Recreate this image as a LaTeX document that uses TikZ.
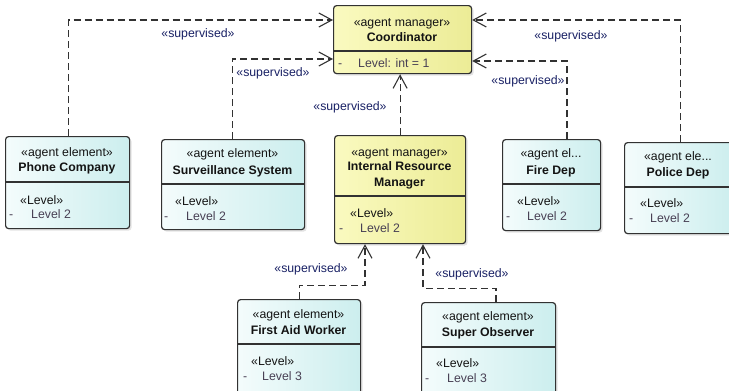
\documentclass[tikz,border=0pt]{standalone}
\usepackage{fontspec}
\setmainfont{Liberation Sans}
\usetikzlibrary{arrows.meta,calc,shadows}

\definecolor{edge}{RGB}{50,50,50}
\definecolor{elemL}{RGB}{244,252,252}
\definecolor{elemR}{RGB}{204,238,238}
\definecolor{mgrL}{RGB}{250,250,192}
\definecolor{mgrR}{RGB}{236,236,150}
\definecolor{ink}{RGB}{20,20,20}
\definecolor{attr}{RGB}{72,64,84}
\definecolor{lbl}{RGB}{24,32,100}

\newcommand\txtsize{\fontsize{12.3}{14}\selectfont}

\tikzset{
  box/.style={draw=edge, line width=1.2pt, rounded corners=3pt, inner sep=0pt,
    anchor=north west,
    drop shadow={opacity=0.22, shadow xshift=2pt, shadow yshift=-2pt}},
  elem/.style={box, left color=elemL, right color=elemR},
  mgr/.style={box, left color=mgrL, right color=mgrR},
  divider/.style={draw=edge, line width=1.2pt},
  st/.style={anchor=base, inner sep=0pt, font=\txtsize, text=ink},
  nm/.style={anchor=base, inner sep=0pt, font=\txtsize\bfseries, text=ink},
  lv/.style={anchor=base west, inner sep=0pt, font=\txtsize, text=ink},
  attrtxt/.style={anchor=base west, inner sep=0pt, font=\txtsize, text=attr},
  sup/.style={draw=edge, line width=1.2pt, dash pattern=on 7pt off 4pt,
    -{Straight Barb[length=13pt,width=14pt,line width=1.1pt]}},
  suplabel/.style={anchor=base, inner sep=0pt, font=\txtsize, text=lbl},
}

% style, name, left, top, right, bottom, divider
\newcommand\umlbox[7]{%
  \node[#1, minimum width={#5-#3}, minimum height={#6-#4}] (#2) at (#3,#4) {};
  \draw[divider] (#2.west |- 0,#7) -- (#2.east |- 0,#7);}

\begin{document}
\begin{tikzpicture}[x=1pt,y=-1pt]
\useasboundingbox (0,0) rectangle (729,391);
\clip (0,0) rectangle (729,391);

% boxes
\umlbox{mgr}{coord}{333}{5}{471}{73}{51}
\umlbox{elem}{pc}{5}{136}{129}{228}{182}
\umlbox{elem}{sv}{161}{139}{304}{229}{184}
\umlbox{mgr}{irm}{334}{135}{465}{243}{196}
\umlbox{elem}{fd}{502}{139}{600}{230}{184}
\umlbox{elem}{pd}{624}{142}{733}{233}{187}
\umlbox{elem}{faw}{237}{299}{360}{398}{344}
\umlbox{elem}{so}{421}{302}{555}{398}{347}

% Coordinator
\node[st] (coord-st) at (402,26) {«agent manager»};
\node[nm] (coord-nm) at (402,41) {Coordinator};
\node[attrtxt] (coord-d) at (338,67) {-};
\node[attrtxt] (coord-a) at (358,67) {Level: int = 1};

% Phone Company
\node[st] (pc-st) at (67,156) {«agent element»};
\node[nm] (pc-nm) at (67,171.5) {Phone Company};
\node[lv] (pc-lv) at (20,204) {«Level»};
\node[attrtxt] (pc-d) at (9,218) {-};
\node[attrtxt] (pc-a) at (31,218) {Level 2};

% Surveillance System
\node[st] (sv-st) at (232.5,157.5) {«agent element»};
\node[nm] (sv-nm) at (232.5,174) {Surveillance System};
\node[lv] (sv-lv) at (175,205) {«Level»};
\node[attrtxt] (sv-d) at (164,220.5) {-};
\node[attrtxt] (sv-a) at (186,220.5) {Level 2};

% Internal Resource Manager
\node[st] (irm-st) at (399.5,156) {«agent manager»};
\node[nm] (irm-nm1) at (399.5,170) {Internal Resource};
\node[nm] (irm-nm2) at (399.5,186) {Manager};
\node[lv] (irm-lv) at (350,217) {«Level»};
\node[attrtxt] (irm-d) at (339,232) {-};
\node[attrtxt] (irm-a) at (360,232) {Level 2};

% Fire Dep
\node[st] (fd-st) at (551,157) {«agent el...};
\node[nm] (fd-nm) at (551,174.5) {Fire Dep};
\node[lv] (fd-lv) at (517,205) {«Level»};
\node[attrtxt] (fd-d) at (506,220.5) {-};
\node[attrtxt] (fd-a) at (527,220.5) {Level 2};

% Police Dep
\node[st] (pd-st) at (678,160.5) {«agent ele...};
\node[nm] (pd-nm) at (678,176.5) {Police Dep};
\node[lv] (pd-lv) at (640,207) {«Level»};
\node[attrtxt] (pd-d) at (629,222.5) {-};
\node[attrtxt] (pd-a) at (650,222.5) {Level 2};

% First Aid Worker
\node[st] (faw-st) at (298.5,318) {«agent element»};
\node[nm] (faw-nm) at (298.5,334) {First Aid Worker};
\node[lv] (faw-lv) at (251,365) {«Level»};
\node[attrtxt] (faw-d) at (243,380) {-};
\node[attrtxt] (faw-a) at (262,380) {Level 3};

% Super Observer
\node[st] (so-st) at (488,320.5) {«agent element»};
\node[nm] (so-nm) at (488,336) {Super Observer};
\node[lv] (so-lv) at (436,367) {«Level»};
\node[attrtxt] (so-d) at (425,382.5) {-};
\node[attrtxt] (so-a) at (447,382.5) {Level 3};

% supervision links
\draw[sup] ($(pc.north)+(1,0)$) |- ($(coord.north west)+(0,15)$);
\draw[sup] ($(sv.north)+(-1,0)$) |- ($(coord.north west)+(0,54)$);
\draw[sup] ($(fd.north west)+(65,0)$) |- ($(coord.north east)+(0,56)$);
\draw[sup] ($(pd.north)+(1,0)$) |- ($(coord.north east)+(0,15)$);
\draw[sup] (irm.north) -- (irm.north |- coord.south);
\draw[sup] (faw.north) |- ($(irm.south west)+(31,41)$) -- ($(irm.south west)+(31,0)$);
\draw[sup] ($(so.north west)+(75,0)$) |- ($(irm.south west)+(89,44)$) -- ($(irm.south west)+(89,0)$);

% link labels
\node[suplabel] (l-pc) at (198,37) {«supervised»};
\node[suplabel] (l-sv) at (273,76) {«supervised»};
\node[suplabel] (l-irm) at (350,110) {«supervised»};
\node[suplabel] (l-pd) at (571,39) {«supervised»};
\node[suplabel] (l-fd) at (528,84) {«supervised»};
\node[suplabel] (l-faw) at (311,272) {«supervised»};
\node[suplabel] (l-so) at (472,277) {«supervised»};
\end{tikzpicture}
\end{document}
